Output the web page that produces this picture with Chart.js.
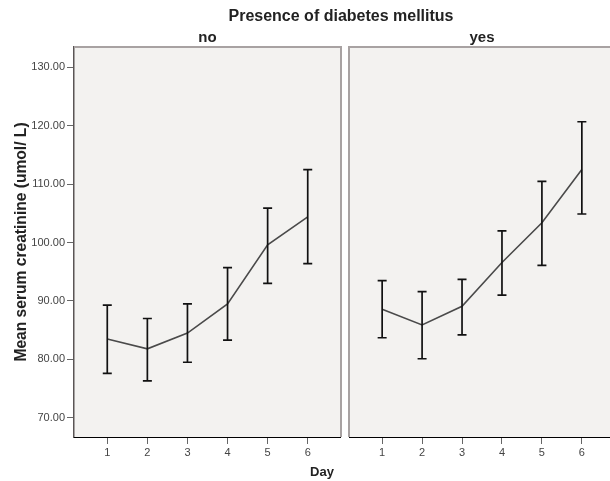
<!DOCTYPE html>
<html><head><meta charset="utf-8">
<script src="https://cdn.jsdelivr.net/npm/chart.js@4.4.1/dist/chart.umd.min.js"></script>
<style>
html,body{margin:0;padding:0;background:#fff;width:610px;height:481px;overflow:hidden;}
#wrap{position:relative;width:610px;height:481px;overflow:hidden;background:#fff;}
#c1{position:absolute;left:0;top:0;}
#c2{position:absolute;left:345px;top:0;}
.t{position:absolute;font-family:"Liberation Sans",Arial,sans-serif;font-weight:bold;color:#222;white-space:nowrap;text-align:center;}
</style></head><body>
<div id="wrap">
<canvas id="c1" width="345" height="481"></canvas>
<canvas id="c2" width="274" height="481"></canvas>
<div class="t" style="left:141px;top:5.5px;width:400px;font-size:16px;line-height:20px;">Presence of diabetes mellitus</div>
<div class="t" style="left:272px;top:463.5px;width:100px;font-size:13px;line-height:16px;">Day</div>
</div>
<script>
const days = [1, 2, 3, 4, 5, 6];
const yTicks = [70, 80, 90, 100, 110, 120, 130];
const noMean  = [83.5, 81.8, 84.5, 89.5, 99.6, 104.4];
const noUpper = [89.3, 87.0, 89.5, 95.7, 105.9, 112.5];
const noLower = [77.6, 76.3, 79.5, 83.3, 93.0, 96.4];
const yesMean  = [88.6, 85.9, 89.1, 96.6, 103.4, 112.5];
const yesUpper = [93.5, 91.6, 93.7, 102.0, 110.5, 120.7];
const yesLower = [83.7, 80.1, 84.2, 91.0, 96.1, 104.9];

Chart.defaults.font.family = '"Liberation Sans", Arial, sans-serif';

const panelPlugin = {
  id: 'panel',
  beforeDraw(chart) {
    const {ctx, chartArea: a} = chart;
    ctx.save();
    ctx.fillStyle = '#f3f2f0';
    ctx.fillRect(a.left, a.top, a.right - a.left, a.bottom - a.top);
    ctx.restore();
  },
  afterDraw(chart, args, opts) {
    const {ctx, chartArea: a} = chart;
    ctx.save();
    ctx.strokeStyle = '#a8a2a2';
    ctx.lineWidth = 2;
    ctx.beginPath();
    ctx.moveTo(a.left, a.bottom);
    if (opts.leftBorder) ctx.lineTo(a.left, a.top); else ctx.moveTo(a.left, a.top);
    ctx.lineTo(a.right, a.top);
    ctx.lineTo(a.right, a.bottom);
    ctx.stroke();
    ctx.strokeStyle = '#000';
    ctx.lineWidth = 1;
    ctx.beginPath();
    ctx.moveTo(a.left, a.bottom + 0.5);
    ctx.lineTo(a.right, a.bottom + 0.5);
    ctx.stroke();
    ctx.restore();
  }
};

const errPlugin = {
  id: 'errbars',
  afterDatasetsDraw(chart, args, opts) {
    const {ctx} = chart;
    const xs = chart.scales.x, ys = chart.scales.y;
    ctx.save();
    ctx.strokeStyle = '#111';
    ctx.lineWidth = 1.7;
    opts.upper.forEach((u, i) => {
      const x = xs.getPixelForValue(days[i]);
      const yu = ys.getPixelForValue(u);
      const yl = ys.getPixelForValue(opts.lower[i]);
      ctx.beginPath();
      ctx.moveTo(x, yu); ctx.lineTo(x, yl);
      ctx.moveTo(x - 4.5, yu); ctx.lineTo(x + 4.5, yu);
      ctx.moveTo(x - 4.5, yl); ctx.lineTo(x + 4.5, yl);
      ctx.stroke();
    });
    ctx.restore();
  }
};

function makeChart(id, label, means, upper, lower, showY) {
  return new Chart(document.getElementById(id), {
    type: 'line',
    data: {
      datasets: [{
        data: days.map((d, i) => ({x: d, y: means[i]})),
        borderColor: '#4a4a4a',
        borderWidth: 1.6,
        pointRadius: 0,
        tension: 0,
        fill: false
      }]
    },
    options: {
      responsive: false,
      animation: false,
      layout: {padding: {left: showY ? 0 : 4, right: 4, top: 0, bottom: 0}},
      plugins: {
        legend: {display: false},
        tooltip: {enabled: false},
        title: {
          display: true, text: label, fullSize: false,
          font: {size: 15, weight: 'bold'}, color: '#222',
          padding: {top: 29, bottom: 0}
        },
        errbars: {upper: upper, lower: lower},
        panel: {leftBorder: !showY}
      },
      scales: {
        x: {
          type: 'linear', min: 0.17, max: 6.83,
          afterBuildTicks: s => { s.ticks = days.map(v => ({value: v})); },
          afterFit: s => { s.height = 44; },
          ticks: {font: {size: 11}, color: '#444', padding: 2, callback: v => String(v)},
          grid: {display: true, drawOnChartArea: false, drawTicks: true, tickLength: 7, tickColor: '#666', tickWidth: 1},
          border: {display: false}
        },
        y: {
          display: showY,
          min: 66.7, max: 133.5,
          afterBuildTicks: s => { s.ticks = yTicks.map(v => ({value: v})); },
          afterFit: s => { if (showY) s.width = 74; },
          ticks: {font: {size: 11}, color: '#444', padding: 2, callback: v => Number(v).toFixed(2)},
          grid: {display: true, drawOnChartArea: false, drawTicks: true, tickLength: 7, tickColor: '#666', tickWidth: 1},
          border: {display: true, color: '#5a5555', width: 1.5},
          title: {
            display: true, text: 'Mean serum creatinine (umol/ L)',
            font: {size: 15.6, weight: 'bold'}, color: '#222',
            padding: {top: 12, bottom: 0}
          }
        }
      }
    },
    plugins: [panelPlugin, errPlugin]
  });
}

makeChart('c1', 'no', noMean, noUpper, noLower, true);
makeChart('c2', 'yes', yesMean, yesUpper, yesLower, false);
</script>
</body></html>
